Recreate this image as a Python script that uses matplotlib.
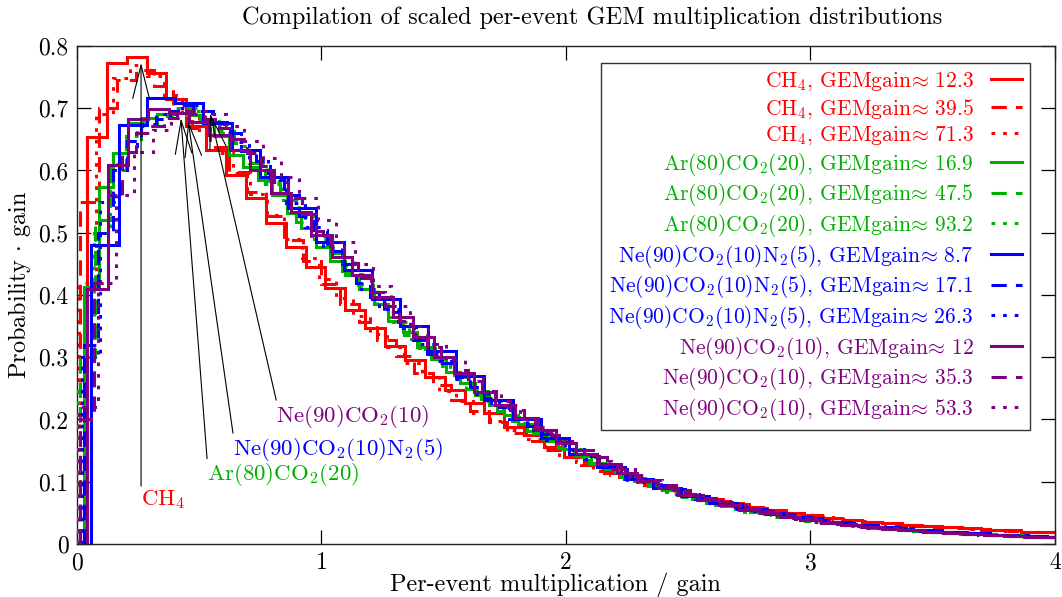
import numpy as np
import matplotlib
matplotlib.use("Agg")
import matplotlib.pyplot as plt
from matplotlib.lines import Line2D

plt.rcParams['font.family'] = 'serif'
plt.rcParams['font.serif'] = ['cmr10']
plt.rcParams['mathtext.fontset'] = 'cm'
plt.rcParams['axes.formatter.use_mathtext'] = True
plt.rcParams['font.size'] = 17

# scaled histograms: bin n covers (n-0.5 .. n+0.5)/gain, merged `rebin` at a time
ch4_12 = [0.653, 0.773, 0.783, 0.757, 0.715, 0.672, 0.633, 0.593, 0.556, 0.515,
          0.477, 0.445, 0.411, 0.376, 0.347, 0.318, 0.296, 0.268, 0.247, 0.226,
          0.210, 0.188, 0.175, 0.155, 0.140, 0.128, 0.114, 0.104, 0.095, 0.086,
          0.079, 0.072, 0.066, 0.060, 0.055, 0.050, 0.046, 0.042, 0.039, 0.036,
          0.033, 0.031, 0.029, 0.027, 0.025, 0.023, 0.022, 0.020, 0.019]
ch4_39 = [0.55, 0.70, 0.745, 0.762, 0.735, 0.705, 0.668, 0.637, 0.597, 0.565,
          0.527, 0.488, 0.455, 0.418, 0.386, 0.357, 0.327, 0.302, 0.275, 0.255,
          0.232, 0.214, 0.196, 0.179, 0.165, 0.151, 0.139, 0.127, 0.117, 0.107,
          0.099, 0.090, 0.082, 0.075, 0.069, 0.064, 0.058, 0.054, 0.049, 0.046,
          0.042, 0.039, 0.036, 0.034, 0.031, 0.029, 0.027, 0.026, 0.024, 0.023,
          0.021, 0.020, 0.019]
ch4_71 = [0.42, 0.69, 0.748, 0.770, 0.752, 0.722, 0.690, 0.660, 0.628, 0.596,
          0.562, 0.528, 0.490, 0.460, 0.425, 0.395, 0.366, 0.338, 0.316, 0.290,
          0.268, 0.246, 0.230, 0.211, 0.198, 0.183, 0.169, 0.157, 0.143, 0.132,
          0.121, 0.111, 0.102, 0.094, 0.086, 0.080, 0.074, 0.068, 0.063, 0.058,
          0.054, 0.050, 0.046, 0.043, 0.040, 0.037, 0.034, 0.032, 0.030, 0.029,
          0.027, 0.026, 0.024, 0.023, 0.021, 0.020, 0.019, 0.019]
ar_16 = [0.413, 0.574, 0.628, 0.676, 0.685, 0.690, 0.692, 0.689, 0.678, 0.655,
         0.625, 0.606, 0.585, 0.560, 0.531, 0.508, 0.477, 0.455, 0.432, 0.410,
         0.385, 0.358, 0.340, 0.317, 0.297, 0.276, 0.258, 0.240, 0.224, 0.207,
         0.193, 0.178, 0.166, 0.153, 0.141, 0.130, 0.120, 0.110, 0.101, 0.093,
         0.086, 0.079, 0.072, 0.066, 0.061, 0.056, 0.052, 0.048, 0.045, 0.041,
         0.038, 0.035, 0.032, 0.030, 0.028, 0.026, 0.024, 0.022, 0.021, 0.019,
         0.018, 0.017, 0.016, 0.015, 0.014, 0.013, 0.012, 0.012]
ar_47 = [0.30, 0.52, 0.60, 0.648, 0.672, 0.688, 0.695, 0.700, 0.682, 0.664,
         0.633, 0.612, 0.578, 0.553, 0.517, 0.495, 0.468, 0.438, 0.416, 0.386,
         0.364, 0.336, 0.315, 0.291, 0.272, 0.249, 0.233, 0.213, 0.198, 0.181,
         0.169, 0.154, 0.143, 0.129, 0.120, 0.108, 0.100, 0.090, 0.084, 0.075,
         0.070, 0.062, 0.058, 0.052, 0.049, 0.044, 0.041, 0.037, 0.035, 0.031,
         0.029, 0.026, 0.025, 0.022, 0.021, 0.019, 0.018, 0.016, 0.016, 0.014,
         0.014, 0.013, 0.012, 0.012]
ar_93 = [0.25, 0.50, 0.61, 0.655, 0.678, 0.690, 0.700, 0.695, 0.680, 0.660,
         0.640, 0.610, 0.583, 0.553, 0.525, 0.490, 0.462, 0.434, 0.410, 0.381,
         0.357, 0.330, 0.310, 0.286, 0.268, 0.246, 0.230, 0.212, 0.195, 0.179,
         0.166, 0.152, 0.139, 0.127, 0.116, 0.106, 0.097, 0.089, 0.081, 0.074,
         0.067, 0.062, 0.056, 0.051, 0.047, 0.043, 0.039, 0.036, 0.033, 0.030,
         0.028, 0.026, 0.024, 0.022, 0.020, 0.019, 0.017, 0.016, 0.015, 0.014,
         0.013, 0.012, 0.012]
nen2_8 = [0.480, 0.673, 0.716, 0.708, 0.676, 0.633, 0.590, 0.540, 0.485, 0.440,
          0.393, 0.350, 0.310, 0.270, 0.232, 0.200, 0.170, 0.145, 0.124, 0.105,
          0.090, 0.077, 0.066, 0.056, 0.048, 0.041, 0.035, 0.030, 0.026, 0.022,
          0.019, 0.017, 0.015, 0.013, 0.012]
nen2_17 = [0.32, 0.50, 0.60, 0.648, 0.675, 0.682, 0.695, 0.705, 0.695, 0.678,
           0.660, 0.632, 0.615, 0.585, 0.560, 0.527, 0.505, 0.470, 0.450, 0.420,
           0.397, 0.372, 0.350, 0.327, 0.305, 0.290, 0.268, 0.252, 0.234, 0.220,
           0.203, 0.190, 0.176, 0.164, 0.151, 0.141, 0.129, 0.121, 0.110, 0.103,
           0.094, 0.088, 0.080, 0.075, 0.068, 0.064, 0.058, 0.054, 0.050, 0.046,
           0.043, 0.039, 0.036, 0.034, 0.031, 0.029, 0.027, 0.025, 0.023, 0.022,
           0.020, 0.019, 0.017, 0.016, 0.015, 0.014, 0.013, 0.012, 0.012]
nen2_26 = [0.30, 0.55, 0.64, 0.672, 0.690, 0.700, 0.695, 0.675, 0.645, 0.615,
           0.585, 0.548, 0.510, 0.475, 0.440, 0.410, 0.378, 0.347, 0.322, 0.294,
           0.265, 0.241, 0.221, 0.200, 0.183, 0.167, 0.152, 0.137, 0.123, 0.111,
           0.100, 0.090, 0.081, 0.073, 0.066, 0.059, 0.053, 0.048, 0.043, 0.039,
           0.035, 0.031, 0.028, 0.025, 0.023, 0.021, 0.019, 0.017, 0.016, 0.014,
           0.013, 0.012, 0.011]
ne_12 = [0.410, 0.609, 0.683, 0.699, 0.692, 0.678, 0.657, 0.633, 0.601, 0.564,
         0.534, 0.496, 0.461, 0.432, 0.397, 0.365, 0.333, 0.300, 0.274, 0.244,
         0.223, 0.202, 0.183, 0.162, 0.145, 0.128, 0.114, 0.101, 0.090, 0.079,
         0.070, 0.062, 0.055, 0.049, 0.043, 0.038, 0.034, 0.030, 0.027, 0.024,
         0.022, 0.020, 0.018, 0.016, 0.015, 0.013, 0.012, 0.011]
ne_35 = [0.20, 0.42, 0.56, 0.63, 0.660, 0.672, 0.685, 0.695, 0.690, 0.683,
         0.668, 0.650, 0.628, 0.607, 0.582, 0.556, 0.530, 0.502, 0.478, 0.452,
         0.428, 0.404, 0.382, 0.358, 0.338, 0.316, 0.298, 0.279, 0.262, 0.246,
         0.230, 0.215, 0.201, 0.188, 0.175, 0.162, 0.151, 0.140, 0.129, 0.120,
         0.111, 0.102, 0.094, 0.087, 0.080, 0.074, 0.068, 0.063, 0.058, 0.053,
         0.049, 0.045, 0.041, 0.038, 0.035, 0.032, 0.030, 0.027, 0.025, 0.023,
         0.022, 0.020, 0.019, 0.017, 0.016, 0.015, 0.014, 0.013, 0.012, 0.012,
         0.011]
ne_53 = [0.22, 0.42, 0.56, 0.63, 0.665, 0.685, 0.695, 0.690, 0.672, 0.648,
         0.620, 0.590, 0.556, 0.520, 0.485, 0.450, 0.415, 0.382, 0.350, 0.322,
         0.295, 0.270, 0.246, 0.223, 0.202, 0.182, 0.165, 0.148, 0.134, 0.120,
         0.108, 0.097, 0.087, 0.078, 0.070, 0.063, 0.056, 0.050, 0.045, 0.040,
         0.036, 0.032, 0.029, 0.026, 0.024, 0.022, 0.020, 0.018, 0.016, 0.015,
         0.014, 0.013, 0.012, 0.011]

gas_names = ['CH$_4$', 'Ar(80)CO$_2$(20)', 'Ne(90)CO$_2$(10)N$_2$(5)', 'Ne(90)CO$_2$(10)']
gains = [[12.3, 39.5, 71.3], [16.9, 47.5, 93.2], [8.7, 17.1, 26.3], [12, 35.3, 53.3]]
rebins = [[1, 3, 5], [1, 3, 6], [1, 1, 2], [1, 2, 4]]
series = [[ch4_12, ch4_39, ch4_71], [ar_16, ar_47, ar_93],
          [nen2_8, nen2_17, nen2_26], [ne_12, ne_35, ne_53]]
colors = ['#ff0000', '#00b000', '#0000ff', '#800080']
styles = ['-', (0, (5, 3)), (0, (1.2, 2.6))]

# arrow labels: (text position, arrow tip) in data units
arrow_start = [(0.262, 0.093), (0.532, 0.137), (0.638, 0.178), (0.815, 0.231)]
arrow_tip = [(0.262, 0.773), (0.425, 0.684), (0.455, 0.679), (0.544, 0.692)]

fig = plt.figure(figsize=(10.62, 5.97), dpi=100)
ax = fig.add_axes([0.0725, 0.0888, 0.9209, 0.8342])

handles = []
labels = []
for gi in range(4):
    for k in range(3):
        vals = np.array(series[gi][k])
        g = gains[gi][k]
        edges = (0.5 + rebins[gi][k] * np.arange(len(vals) + 1)) / g
        ax.stairs(vals, edges, baseline=0, color=colors[gi], lw=2.2,
                  linestyle=styles[k], zorder=2 + gi)
        handles.append(Line2D([], [], color=colors[gi], lw=2.2, linestyle=styles[k]))
        labels.append(gas_names[gi] + r', GEMgain$\!\approx\,$' + ('%g' % g))

for gi in range(4):
    ax.annotate('', xy=arrow_tip[gi], xytext=arrow_start[gi],
                arrowprops=dict(arrowstyle='->,head_length=1.2,head_width=0.3',
                                lw=0.8, color='black', shrinkA=0, shrinkB=0,
                                mutation_scale=20), zorder=10)
    ax.text(arrow_start[gi][0], arrow_start[gi][1] - 0.004, gas_names[gi],
            color=colors[gi], ha='left', va='top', fontsize=16.5, zorder=10)

ax.set_xlim(0, 4)
ax.set_ylim(0, 0.8)
ax.set_xticks([0, 1, 2, 3, 4])
ax.set_xticklabels(['0', '1', '2', '3', '4'])
yt = [0, 0.1, 0.2, 0.3, 0.4, 0.5, 0.6, 0.7, 0.8]
ax.set_yticks(yt)
ax.set_yticklabels(['0', '0.1', '0.2', '0.3', '0.4', '0.5', '0.6', '0.7', '0.8'])
ax.tick_params(direction='in', length=10, width=0.9, top=True, right=True, pad=6,
               labelsize=17)
for sp in ax.spines.values():
    sp.set_linewidth(1.0)
    sp.set_color('#222222')

leg = ax.legend(handles, labels, loc='upper right', bbox_to_anchor=(0.974, 0.966),
                borderaxespad=0, markerfirst=False, handlelength=1.45,
                labelspacing=0.17, fancybox=False, framealpha=1, fontsize=15.5,
                edgecolor='#333333', borderpad=0.35, handletextpad=0.8)
leg.get_frame().set_linewidth(1.0)
for t, gi in zip(leg.get_texts(), np.repeat(np.arange(4), 3)):
    t.set_color(colors[gi])
leg.set_zorder(20)

fig.text(0.558, 0.97, 'Compilation of scaled per-event GEM multiplication distributions',
         ha='center', va='center', fontsize=17.5)
fig.text(0.523, 0.02, 'Per-event multiplication / gain', ha='center', va='center',
         fontsize=17.5)
fig.text(0.018, 0.524, r'Probability $\cdot$ gain', ha='center', va='center',
         rotation=90, fontsize=17.5)

fig.savefig('out.png', dpi=100)
